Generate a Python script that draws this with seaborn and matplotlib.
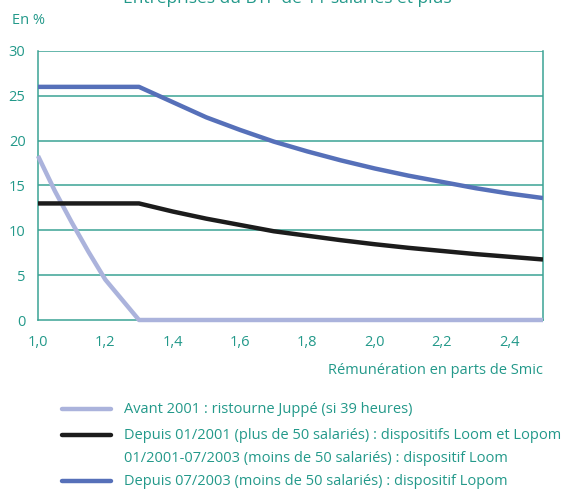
import matplotlib
matplotlib.use("Agg")
import matplotlib.pyplot as plt
import seaborn as sns
import pandas as pd
from matplotlib.lines import Line2D

# Data
x_juppe = [1.0, 1.05, 1.1, 1.15, 1.2, 1.3, 2.5]
y_juppe = [18.3, 14.4, 10.9, 7.6, 4.5, 0.0, 0.0]

x_loom = [1.0, 1.3, 1.4, 1.5, 1.6, 1.7, 1.8, 1.9, 2.0, 2.1, 2.2, 2.3, 2.4, 2.5]
y_loom = [13.0, 13.0, 12.1, 11.3, 10.6, 9.9, 9.4, 8.9, 8.45, 8.05, 7.7, 7.35, 7.05, 6.75]

x_lopom = [1.0, 1.3, 1.4, 1.5, 1.6, 1.7, 1.8, 1.9, 2.0, 2.1, 2.2, 2.3, 2.4, 2.5]
y_lopom = [26.0, 26.0, 24.3, 22.6, 21.2, 19.9, 18.8, 17.8, 16.9, 16.1, 15.4, 14.7, 14.1, 13.6]

labels = [
    "Avant 2001 : ristourne Juppé (si 39 heures)",
    "Depuis 01/2001 (plus de 50 salariés) : dispositifs Loom et Lopom",
    "01/2001-07/2003 (moins de 50 salariés) : dispositif Loom",
    "Depuis 07/2003 (moins de 50 salariés) : dispositif Lopom",
]
x_ticks = [1.0, 1.2, 1.4, 1.6, 1.8, 2.0, 2.2, 2.4]
x_ticklabels = ["1,0", "1,2", "1,4", "1,6", "1,8", "2,0", "2,2", "2,4"]
y_ticks = [0, 5, 10, 15, 20, 25, 30]

title = "Entreprises du BTP de 11 salariés et plus"

TEAL = "#23998a"
GRID = "#3aa394"
C_JUPPE = "#abb3dc"
C_LOOM = "#1c1c1c"
C_LOPOM = "#5670b9"

sns.set_style("white")
plt.rcParams["font.family"] = ["Open Sans", "DejaVu Sans"]

fig = plt.figure(figsize=(5.65, 4.9), dpi=100)
ax = fig.add_axes([38/565, 1-320/490, 505/565, 269/490])

df_j = pd.DataFrame({"x": x_juppe, "y": y_juppe})
df_l = pd.DataFrame({"x": x_loom, "y": y_loom})
df_p = pd.DataFrame({"x": x_lopom, "y": y_lopom})

for yv in y_ticks[1:]:
    ax.axhline(yv, color=GRID, lw=1.1, zorder=0)

sns.lineplot(data=df_j, x="x", y="y", ax=ax, color=C_JUPPE, lw=3.2, zorder=3, solid_capstyle="butt", clip_on=False)
sns.lineplot(data=df_l, x="x", y="y", ax=ax, color=C_LOOM, lw=3.2, zorder=4, solid_capstyle="butt")
sns.lineplot(data=df_p, x="x", y="y", ax=ax, color=C_LOPOM, lw=3.2, zorder=5, solid_capstyle="butt")

ax.set_xlim(1.0, 2.5)
ax.set_ylim(0, 30)
ax.set_xticks(x_ticks)
ax.set_xticklabels(x_ticklabels)
ax.set_yticks(y_ticks)
ax.set_xlabel("")
ax.set_ylabel("")
for s in ["left", "right", "bottom", "top"]:
    ax.spines[s].set_color(GRID)
    ax.spines[s].set_linewidth(1.1)
ax.spines["top"].set_visible(False)
ax.tick_params(axis="both", colors=TEAL, labelsize=10.5, length=3, width=1, direction="out")
ax.tick_params(axis="x", pad=8, labelcolor=TEAL)
ax.tick_params(axis="y", pad=6, labelcolor=TEAL)
ax.tick_params(axis="both", color=GRID)

fig.text(287/565, 1-3/490, title, ha="center", va="baseline", color=TEAL, fontsize=12.5)
fig.text(12/565, 1-20/490, "En %", ha="left", va="center", color=TEAL, fontsize=10.5)
fig.text(543/565, 1-370/490, "Rémunération en parts de Smic", ha="right", va="center", color=TEAL, fontsize=10.5)

rows = [409, 435, 458, 481]
line_colors = [C_JUPPE, C_LOOM, None, C_LOPOM]
for r, lab, c in zip(rows, labels, line_colors):
    yy = 1 - r/490
    if c is not None:
        fig.add_artist(Line2D([62/565, 111/565], [yy, yy], color=c, lw=3.2, transform=fig.transFigure))
    fig.text(124/565, yy, lab, ha="left", va="center", color=TEAL, fontsize=10.5)

fig.savefig("out.png", dpi=100)
